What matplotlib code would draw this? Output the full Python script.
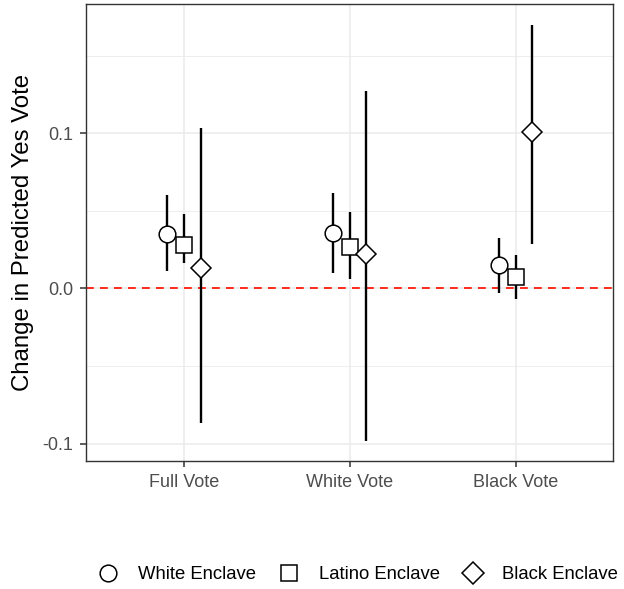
import numpy as np
import matplotlib
matplotlib.use('Agg')
import matplotlib.pyplot as plt
from matplotlib.lines import Line2D

plt.rcParams['font.family'] = ['Liberation Sans', 'DejaVu Sans']

categories = ['Full Vote', 'White Vote', 'Black Vote']
groups = ['White Enclave', 'Latino Enclave', 'Black Enclave']
markers = ['o', 's', 'D']

estimates = {
  'White Enclave': [0.0353, 0.0360, 0.0154],
  'Latino Enclave': [0.0282, 0.0270, 0.0077],
  'Black Enclave': [0.0135, 0.0220, 0.1006],
}
lower = {
  'White Enclave': [0.0110, 0.0100, -0.0030],
  'Latino Enclave': [0.0167, 0.0064, -0.0070],
  'Black Enclave': [-0.0870, -0.0985, 0.0288],
}
upper = {
  'White Enclave': [0.0600, 0.0615, 0.0327],
  'Latino Enclave': [0.0480, 0.0490, 0.0218],
  'Black Enclave': [0.1035, 0.1276, 0.1700],
}

fig = plt.figure(figsize=(6.24, 5.89), dpi=100)
ax = fig.add_axes([0.138, 0.217, 0.845, 0.776])

x = np.arange(1, len(categories) + 1)
offsets = [-0.1, 0.0, 0.1]
msizes = [12, 11, 10.5]

for g, m, off, ms in zip(groups, markers, offsets, msizes):
  xs = x + off
  ax.vlines(xs, lower[g], upper[g], color='black', lw=1.7, zorder=3)
  ax.plot(xs, estimates[g], linestyle='none', marker=m, markersize=ms,
          markerfacecolor='white', markeredgecolor='black', markeredgewidth=1.1, zorder=4)

ax.axhline(0, color='#FF2A1A', linestyle=(0, (4, 3.2)), lw=1.4, zorder=2)

ax.set_xlim(0.41, 3.59)
ax.set_ylim(-0.1114, 0.1834)
ax.set_xticks(x)
ax.set_xticklabels(categories)
ax.set_yticks([-0.1, 0.0, 0.1])
ax.set_yticklabels(['-0.1', '0.0', '0.1'])
ax.set_yticks([-0.05, 0.05, 0.15], minor=True)

ax.grid(True, which='major', color='#EBEBEB', lw=1.1, zorder=0)
ax.grid(True, which='minor', axis='y', color='#EBEBEB', lw=0.6, zorder=0)
ax.set_axisbelow(True)
for s in ax.spines.values():
  s.set_color('#333333')
  s.set_linewidth(1.0)
ax.tick_params(which='major', length=4.5, width=1.1, color='#333333', labelsize=13, labelcolor='#4D4D4D', pad=4.5)
ax.tick_params(which='minor', length=0)
ax.set_ylabel('Change in Predicted Yes Vote', fontsize=17.3, color='black', labelpad=6)

handles = [Line2D([], [], linestyle='none', marker=m, markersize=ms,
                  markerfacecolor='white', markeredgecolor='black', markeredgewidth=1.1)
           for m, ms in zip(markers, [12, 11, 11])]
fig.legend(handles, groups, loc='center left', bbox_to_anchor=(0.132, 0.024), ncol=3, frameon=False,
           fontsize=13.3, handlelength=1.0, handletextpad=1.1, columnspacing=1.3)

fig.savefig('out.png', dpi=100)
